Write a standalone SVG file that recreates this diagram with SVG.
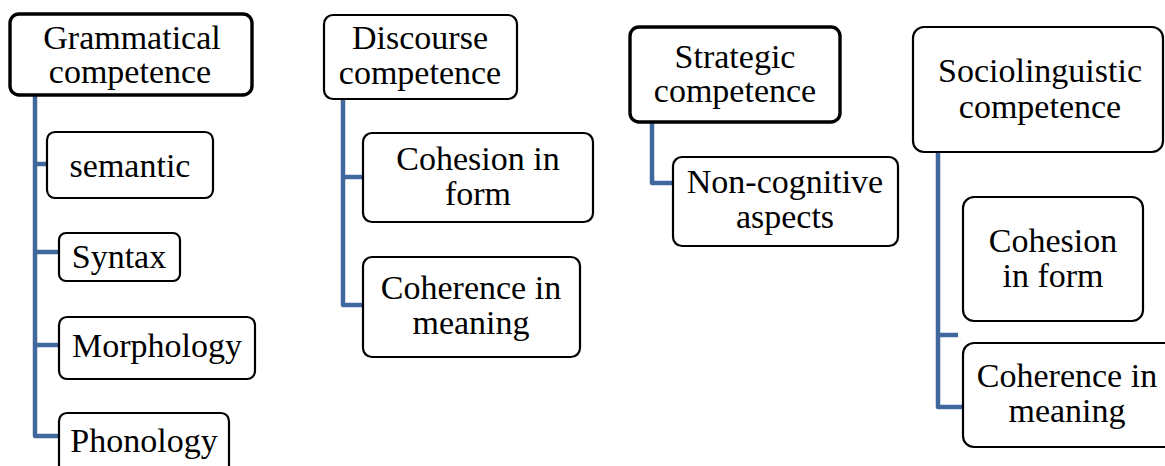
<svg xmlns="http://www.w3.org/2000/svg" width="1165" height="466" viewBox="0 0 1165 466">
  <style>
    .box { fill: #ffffff; stroke: #000000; stroke-width: 2.2; }
    .box.bold { stroke-width: 3.4; }
    .lbl { font-family: "Liberation Serif", "Times New Roman", serif; font-size: 34px; fill: #000000; text-anchor: middle; }
    .wire { fill: none; stroke: #41689c; stroke-width: 4.5; stroke-linejoin: round; }
  </style>
  <rect width="1165" height="466" fill="#ffffff"/>

  <!-- connectors -->
  <g id="connectors">
    <path class="wire" d="M35 95 V436 H60 M35 164 H48 M35 252 H60 M35 345 H60"/>
    <path class="wire" d="M343 99 V305 H364 M343 177 H364"/>
    <path class="wire" d="M652 122 V183 H674"/>
    <path class="wire" d="M938 152 V407 H964 M938 335 H958"/>
  </g>

  <!-- Grammatical competence -->
  <g id="grammatical">
    <rect class="box bold" x="10" y="14" width="242" height="81" rx="9"/>
    <text class="lbl"><tspan x="132" y="49">Grammatical</tspan><tspan x="130" y="83">competence</tspan></text>
  </g>
  <g id="semantic">
    <rect class="box" x="47" y="132" width="166" height="66" rx="8"/>
    <text class="lbl" x="130" y="177">semantic</text>
  </g>
  <g id="syntax">
    <rect class="box" x="59" y="233" width="121" height="48" rx="7"/>
    <text class="lbl" x="119" y="268">Syntax</text>
  </g>
  <g id="morphology">
    <rect class="box" x="59" y="317" width="196" height="62" rx="8"/>
    <text class="lbl" x="157" y="357">Morphology</text>
  </g>
  <g id="phonology">
    <rect class="box" x="59" y="413" width="170" height="70" rx="8"/>
    <text class="lbl" x="144" y="452">Phonology</text>
  </g>

  <!-- Discourse competence -->
  <g id="discourse">
    <rect class="box" x="324" y="15" width="193" height="84" rx="9"/>
    <text class="lbl"><tspan x="420" y="49">Discourse</tspan><tspan x="420" y="84">competence</tspan></text>
  </g>
  <g id="discourse-cohesion">
    <rect class="box" x="363" y="133" width="230" height="89" rx="9"/>
    <text class="lbl"><tspan x="478" y="170">Cohesion in</tspan><tspan x="478" y="205">form</tspan></text>
  </g>
  <g id="discourse-coherence">
    <rect class="box" x="363" y="257" width="217" height="100" rx="9"/>
    <text class="lbl"><tspan x="471" y="299">Coherence in</tspan><tspan x="471" y="334">meaning</tspan></text>
  </g>

  <!-- Strategic competence -->
  <g id="strategic">
    <rect class="box bold" x="630" y="27" width="210" height="95" rx="9"/>
    <text class="lbl"><tspan x="735" y="68">Strategic</tspan><tspan x="735" y="102">competence</tspan></text>
  </g>
  <g id="non-cognitive">
    <rect class="box" x="673" y="157" width="225" height="89" rx="9"/>
    <text class="lbl"><tspan x="785" y="193">Non-cognitive</tspan><tspan x="785" y="228">aspects</tspan></text>
  </g>

  <!-- Sociolinguistic competence -->
  <g id="sociolinguistic">
    <rect class="box" x="913" y="27" width="250" height="125" rx="11"/>
    <text class="lbl"><tspan x="1040" y="82">Sociolinguistic</tspan><tspan x="1040" y="118">competence</tspan></text>
  </g>
  <g id="socio-cohesion">
    <rect class="box" x="963" y="197" width="180" height="124" rx="11"/>
    <text class="lbl"><tspan x="1053" y="252">Cohesion</tspan><tspan x="1053" y="287">in form</tspan></text>
  </g>
  <g id="socio-coherence">
    <rect class="box" x="963" y="343" width="215" height="104" rx="11"/>
    <text class="lbl"><tspan x="1067" y="387">Coherence in</tspan><tspan x="1067" y="422">meaning</tspan></text>
  </g>
</svg>
